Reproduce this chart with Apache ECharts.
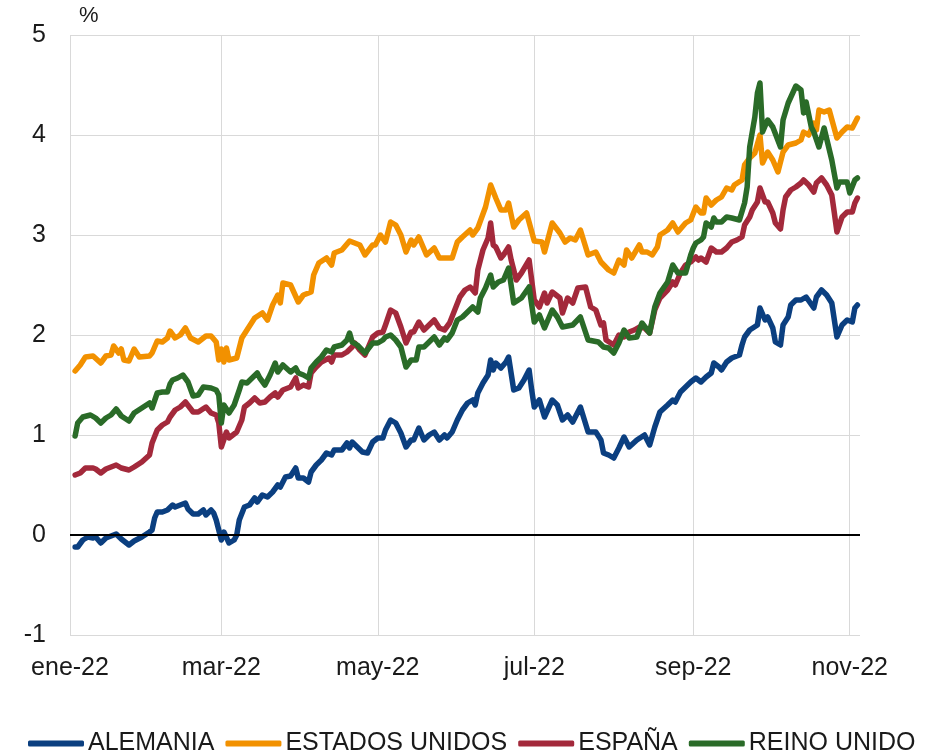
<!DOCTYPE html>
<html>
<head>
<meta charset="utf-8">
<script src="https://cdn.jsdelivr.net/npm/echarts@6/dist/echarts.min.js"></script>
<style>
  html, body { margin: 0; padding: 0; background: #fff; }
  #chart { width: 941px; height: 755px; }
</style>
</head>
<body>
<div id="chart"></div>
<script>
// rentabilidad de la deuda a 10 años, %
// cada punto: [día desde el 1-ene-22, valor]
var meses = ['ene', 'feb', 'mar', 'abr', 'may', 'jun', 'jul', 'ago', 'sep', 'oct', 'nov', 'dic'];
var nombres = ['ALEMANIA', 'ESTADOS UNIDOS', 'ESPAÑA', 'REINO UNIDO'];
var colores = ['#0b3f80', '#f29100', '#a3293b', '#2a6b28'];

var alemania = [[2,-0.12],[3,-0.12],[5,-0.05],[7,-0.02],[9,-0.03],[10,-0.02],[12,-0.08],[14,-0.03],[16,-0.01],[18,0.01],[20,-0.04],[23,-0.10],[25,-0.06],[28,-0.02],[31,0.03],[32,0.05],[33,0.17],[34,0.23],[36,0.23],[38,0.25],[40,0.30],[41,0.28],[43,0.30],[45,0.32],[46,0.26],[48,0.21],[50,0.21],[52,0.25],[53,0.20],[55,0.25],[56,0.22],[57,0.15],[59,-0.05],[60,0.03],[62,-0.08],[64,-0.05],[65,0.00],[66,0.15],[68,0.28],[70,0.30],[72,0.37],[73,0.33],[75,0.40],[77,0.38],[79,0.43],[81,0.50],[82,0.48],[84,0.58],[86,0.59],[88,0.67],[89,0.57],[91,0.57],[93,0.53],[94,0.63],[96,0.70],[98,0.75],[100,0.82],[102,0.80],[103,0.85],[106,0.85],[108,0.92],[109,0.87],[110,0.93],[112,0.88],[114,0.83],[116,0.82],[118,0.93],[120,0.97],[122,0.97],[123,1.05],[125,1.15],[127,1.12],[129,1.02],[131,0.88],[133,0.95],[134,0.95],[136,1.07],[138,0.95],[140,1.00],[142,1.03],[144,0.95],[146,1.00],[147,0.97],[149,1.03],[151,1.15],[153,1.25],[155,1.32],[157,1.35],[158,1.30],[159,1.42],[161,1.52],[163,1.60],[164,1.75],[165,1.65],[166,1.72],[168,1.67],[170,1.73],[171,1.78],[173,1.45],[175,1.47],[177,1.55],[179,1.65],[180,1.45],[181,1.28],[183,1.35],[185,1.18],[188,1.35],[190,1.30],[192,1.15],[194,1.20],[196,1.13],[199,1.28],[202,1.03],[205,1.03],[207,0.95],[208,0.82],[210,0.80],[212,0.77],[214,0.87],[216,0.98],[218,0.88],[221,0.95],[224,1.00],[226,0.90],[228,1.08],[230,1.23],[233,1.30],[235,1.35],[236,1.33],[238,1.43],[240,1.48],[242,1.53],[244,1.57],[246,1.53],[248,1.58],[250,1.62],[251,1.72],[253,1.68],[254,1.65],[256,1.73],[258,1.77],[261,1.80],[262,1.90],[263,1.98],[265,2.05],[268,2.10],[269,2.27],[271,2.15],[272,2.18],[274,2.07],[275,1.93],[277,1.90],[278,2.10],[280,2.18],[281,2.30],[283,2.35],[285,2.35],[287,2.38],[290,2.27],[291,2.38],[293,2.45],[295,2.40],[297,2.32],[298,2.15],[299,1.98],[301,2.10],[303,2.15],[305,2.13],[306,2.27],[307,2.30]];

var eeuu = [[2,1.64],[4,1.70],[6,1.78],[9,1.79],[12,1.72],[14,1.79],[16,1.80],[17,1.89],[19,1.82],[20,1.86],[21,1.75],[23,1.74],[25,1.86],[27,1.78],[31,1.79],[32,1.82],[34,1.94],[36,1.93],[38,1.97],[39,2.04],[41,1.97],[43,2.00],[45,2.07],[47,1.97],[50,1.93],[53,1.99],[55,1.99],[57,1.93],[58,1.75],[59,1.86],[60,1.73],[61,1.87],[62,1.75],[65,1.77],[67,1.97],[69,2.05],[72,2.17],[75,2.22],[77,2.15],[79,2.30],[81,2.40],[82,2.32],[83,2.52],[86,2.50],[89,2.33],[91,2.40],[94,2.43],[95,2.60],[97,2.72],[100,2.77],[102,2.70],[103,2.82],[106,2.85],[109,2.94],[113,2.90],[115,2.80],[118,2.90],[119,2.90],[121,3.00],[123,2.93],[125,3.13],[127,3.10],[129,3.00],[131,2.83],[133,2.95],[134,2.90],[136,2.98],[139,2.80],[142,2.87],[144,2.77],[149,2.77],[151,2.93],[153,2.98],[156,3.05],[157,3.00],[159,3.07],[162,3.28],[164,3.50],[166,3.37],[168,3.25],[170,3.25],[171,3.32],[173,3.08],[175,3.15],[178,3.22],[181,2.94],[184,2.93],[185,2.83],[188,3.12],[191,3.02],[193,2.93],[195,2.97],[197,2.95],[199,3.05],[202,2.80],[205,2.83],[207,2.73],[210,2.65],[212,2.62],[214,2.75],[216,2.70],[217,2.85],[219,2.77],[222,2.90],[223,2.83],[225,2.83],[227,2.80],[229,2.88],[230,3.00],[233,3.05],[235,3.12],[237,3.03],[240,3.12],[242,3.15],[244,3.28],[246,3.22],[247,3.22],[248,3.37],[250,3.30],[252,3.35],[254,3.38],[256,3.47],[258,3.45],[259,3.50],[262,3.55],[263,3.70],[265,3.77],[267,3.82],[269,4.00],[270,3.72],[272,3.83],[274,3.75],[276,3.63],[278,3.83],[280,3.90],[283,3.92],[285,3.95],[286,4.03],[288,4.00],[290,4.12],[291,4.05],[292,4.25],[294,4.23],[296,4.25],[299,3.97],[301,4.03],[303,4.08],[305,4.07],[307,4.17]];

var espana = [[2,0.60],[4,0.62],[6,0.67],[9,0.67],[10,0.66],[12,0.62],[14,0.66],[18,0.70],[20,0.67],[23,0.65],[25,0.68],[28,0.73],[31,0.80],[32,0.92],[34,1.05],[36,1.10],[38,1.13],[39,1.18],[41,1.25],[43,1.28],[45,1.33],[48,1.23],[50,1.23],[53,1.28],[55,1.22],[57,1.20],[58,1.12],[59,0.88],[61,1.03],[62,0.97],[65,1.03],[67,1.15],[68,1.28],[70,1.32],[72,1.37],[74,1.32],[76,1.33],[78,1.38],[80,1.42],[81,1.38],[83,1.45],[86,1.48],[88,1.57],[89,1.47],[91,1.50],[93,1.48],[94,1.62],[96,1.68],[98,1.73],[101,1.77],[102,1.73],[103,1.80],[106,1.80],[108,1.83],[110,1.88],[111,1.92],[113,1.85],[115,1.80],[118,1.98],[120,2.02],[122,2.03],[123,2.10],[125,2.25],[127,2.22],[129,2.08],[131,1.92],[133,2.03],[134,2.03],[136,2.13],[138,2.05],[140,2.10],[142,2.15],[144,2.07],[146,2.05],[148,2.12],[150,2.25],[152,2.38],[154,2.45],[156,2.48],[158,2.42],[159,2.65],[161,2.85],[163,2.97],[164,3.12],[165,2.90],[166,2.88],[168,2.77],[169,2.80],[171,2.88],[172,2.75],[174,2.55],[176,2.62],[179,2.75],[180,2.55],[181,2.35],[183,2.28],[185,2.42],[186,2.32],[188,2.43],[191,2.37],[192,2.22],[194,2.37],[196,2.32],[198,2.47],[201,2.48],[203,2.28],[205,2.25],[207,2.10],[208,2.12],[209,1.95],[212,1.90],[214,2.00],[216,1.98],[218,2.03],[220,2.05],[222,2.08],[224,2.07],[226,2.02],[228,2.25],[230,2.37],[233,2.45],[235,2.53],[236,2.50],[238,2.62],[240,2.70],[242,2.73],[244,2.78],[245,2.75],[246,2.77],[248,2.73],[250,2.87],[252,2.83],[254,2.83],[256,2.87],[258,2.93],[260,2.95],[262,2.98],[263,3.10],[265,3.18],[266,3.25],[268,3.33],[269,3.47],[271,3.33],[272,3.33],[274,3.22],[275,3.12],[277,3.06],[278,3.25],[279,3.38],[281,3.45],[283,3.48],[285,3.52],[286,3.55],[288,3.50],[290,3.43],[291,3.52],[293,3.57],[295,3.50],[297,3.40],[298,3.22],[299,3.03],[301,3.18],[303,3.23],[305,3.23],[306,3.32],[307,3.37]];

var reinoUnido = [[2,0.99],[3,1.12],[5,1.18],[8,1.20],[10,1.17],[12,1.12],[14,1.17],[16,1.20],[18,1.26],[20,1.19],[23,1.14],[25,1.22],[28,1.27],[31,1.32],[32,1.27],[34,1.42],[36,1.43],[38,1.43],[39,1.51],[40,1.55],[42,1.57],[44,1.60],[46,1.53],[48,1.39],[50,1.40],[52,1.48],[55,1.47],[57,1.45],[58,1.40],[59,1.12],[60,1.30],[62,1.22],[64,1.30],[66,1.45],[67,1.53],[69,1.52],[71,1.57],[73,1.62],[74,1.57],[76,1.50],[78,1.60],[80,1.72],[81,1.63],[83,1.70],[86,1.63],[88,1.67],[89,1.62],[91,1.60],[93,1.57],[94,1.67],[96,1.73],[98,1.78],[100,1.85],[102,1.83],[103,1.88],[106,1.90],[108,1.95],[109,2.02],[110,1.93],[112,1.90],[115,1.82],[118,1.92],[120,1.92],[122,1.95],[123,1.98],[125,2.00],[127,1.95],[129,1.88],[131,1.68],[133,1.75],[135,1.75],[136,1.88],[138,1.88],[140,1.93],[142,1.98],[144,1.90],[146,1.97],[147,1.95],[149,2.02],[151,2.15],[153,2.18],[155,2.23],[157,2.28],[159,2.23],[160,2.37],[162,2.47],[164,2.60],[165,2.48],[167,2.53],[169,2.55],[171,2.67],[173,2.32],[176,2.37],[179,2.48],[181,2.13],[183,2.20],[185,2.07],[188,2.25],[190,2.18],[192,2.08],[196,2.10],[199,2.18],[202,1.95],[206,1.93],[208,1.88],[210,1.87],[212,1.82],[214,1.92],[216,2.05],[218,1.97],[221,1.98],[223,2.12],[226,2.02],[228,2.28],[230,2.42],[233,2.53],[235,2.70],[237,2.62],[240,2.62],[242,2.80],[243,2.87],[244,2.92],[246,2.95],[247,2.98],[248,3.12],[250,3.08],[251,3.17],[252,3.13],[254,3.13],[256,3.18],[258,3.17],[261,3.15],[263,3.32],[264,3.48],[265,3.88],[267,4.18],[268,4.42],[269,4.52],[270,4.03],[272,4.15],[274,4.08],[277,3.88],[278,4.15],[280,4.32],[283,4.49],[285,4.45],[286,4.22],[287,4.33],[289,4.08],[290,4.03],[292,3.88],[294,4.07],[297,3.75],[299,3.47],[300,3.53],[303,3.53],[304,3.42],[306,3.55],[307,3.57]];

// eje de fechas: todos los días del 1-ene al 5-nov-22
var fechas = [];
for (var d = 0; d <= 308; d++) {
    var f = new Date(Date.UTC(2022, 0, 1 + d));
    fechas.push(f.toISOString().slice(0, 10));
}

function esInicioMes(i, v) {
    return v.slice(8) === '01' && parseInt(v.slice(5, 7), 10) % 2 === 1;
}

var fuente = "'Liberation Sans', Arial, Helvetica, sans-serif";
var series = [alemania, eeuu, espana, reinoUnido].map(function (datos, k) {
    var s = {
        name: nombres[k],
        type: 'line',
        showSymbol: false,
        symbol: 'none',
        data: datos.map(function (p) { return [fechas[p[0]], p[1]]; }),
        lineStyle: { width: 5.5, color: colores[k], join: 'round', cap: 'round' },
        itemStyle: { color: colores[k] },
        z: 3 + k
    };
    if (k === 0) {
        s.markLine = {
            silent: true,
            symbol: 'none',
            label: { show: false },
            lineStyle: { color: '#000', width: 2, type: 'solid' },
            data: [{ yAxis: 0 }]
        };
    }
    return s;
});

var myChart = echarts.init(document.getElementById('chart'));
myChart.setOption({
    animation: false,
    backgroundColor: '#fff',
    textStyle: { fontFamily: fuente },
    grid: { left: 70, right: 81, top: 35, bottom: 120 },
    legend: {
        data: nombres,
        left: 23,
        top: 726,
        icon: 'roundRect',
        itemWidth: 56,
        itemHeight: 6,
        itemGap: 11,
        textStyle: { fontSize: 25, color: '#1a1a1a', fontFamily: fuente, padding: [0, 0, 0, -1] }
    },
    xAxis: {
        type: 'category',
        data: fechas,
        boundaryGap: false,
        axisLine: { show: false },
        axisTick: { show: false },
        axisLabel: {
            interval: esInicioMes,
            margin: 21,
            fontSize: 25,
            color: '#1a1a1a',
            fontFamily: fuente,
            formatter: function (v) {
                return meses[parseInt(v.slice(5, 7), 10) - 1] + '-22';
            }
        },
        splitLine: { show: true, interval: esInicioMes, lineStyle: { color: '#d9d9d9', width: 1 } }
    },
    yAxis: {
        type: 'value',
        min: -1,
        max: 5,
        interval: 1,
        name: '%',
        nameGap: 8,
        nameTextStyle: { fontSize: 22, color: '#1a1a1a', align: 'left', padding: [0, 0, 0, 9] },
        axisLine: { show: false },
        axisTick: { show: false },
        axisLabel: { margin: 24, fontSize: 25, color: '#1a1a1a', fontFamily: fuente },
        splitLine: { lineStyle: { color: '#d9d9d9', width: 1 } }
    },
    series: series
});
</script>
</body>
</html>
